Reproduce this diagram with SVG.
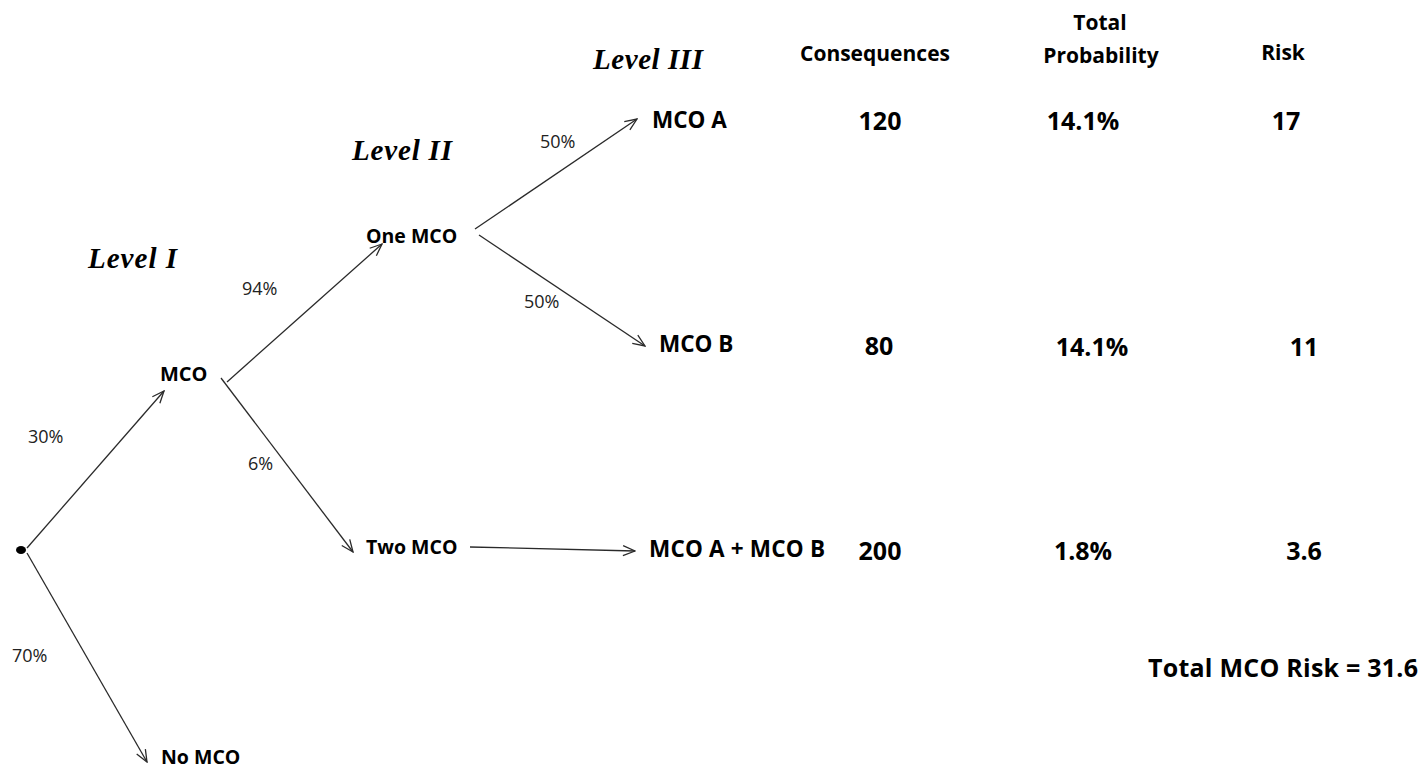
<svg xmlns="http://www.w3.org/2000/svg" width="1420" height="768" viewBox="0 0 1420 768">
<style>
.node{font-family:"Open Sans","Liberation Sans",sans-serif;font-weight:bold;fill:#000}
.pct{font-family:"Open Sans","Liberation Sans",sans-serif;font-size:18px;fill:#222}
.lvl{font-family:"Liberation Serif","Times New Roman",serif;font-weight:bold;font-style:italic;font-size:29px;fill:#000}
.hdr{font-family:"Open Sans","Liberation Sans",sans-serif;font-weight:bold;font-size:21px;fill:#000;text-anchor:middle}
.val{font-family:"Open Sans","Liberation Sans",sans-serif;font-weight:bold;font-size:25px;fill:#000;text-anchor:middle}
.edge{stroke:#2a2a2a;stroke-width:1.3;fill:none;marker-end:url(#arr)}
</style>
<defs>
<marker id="arr" viewBox="0 0 14 12" refX="13" refY="6" markerWidth="14" markerHeight="12" markerUnits="userSpaceOnUse" orient="auto">
<path d="M1,1 L13,6 L1,11" fill="none" stroke="#2a2a2a" stroke-width="1.3"/>
</marker>
</defs>
<rect width="1420" height="768" fill="#fff"/>

<g id="levels">
<text class="lvl" x="88" y="268" textLength="89">Level I</text>
<text class="lvl" x="352" y="160" textLength="100">Level II</text>
<text class="lvl" x="593" y="69" textLength="110">Level III</text>
</g>

<g id="connectors">
<line class="edge" x1="27" y1="548" x2="164" y2="391"/>
<line class="edge" x1="27" y1="553" x2="147" y2="762"/>
<line class="edge" x1="227" y1="382" x2="382" y2="244"/>
<line class="edge" x1="221" y1="378" x2="353" y2="552"/>
<line class="edge" x1="475" y1="229" x2="637" y2="119"/>
<line class="edge" x1="479" y1="235" x2="645" y2="346"/>
<line class="edge" x1="470" y1="547" x2="635" y2="551"/>
</g>

<g id="edge-labels">
<text class="pct" x="28" y="443">30%</text>
<text class="pct" x="12" y="662">70%</text>
<text class="pct" x="242" y="295">94%</text>
<text class="pct" x="248" y="470">6%</text>
<text class="pct" x="540" y="148">50%</text>
<text class="pct" x="524" y="308">50%</text>
</g>

<g id="root"><ellipse cx="21" cy="550" rx="5" ry="4" fill="#000"/></g>
<g id="mco"><text class="node" x="160" y="381" font-size="20">MCO</text></g>
<g id="no-mco"><text class="node" x="161" y="764" font-size="19.5">No MCO</text></g>
<g id="one-mco"><text class="node" x="366" y="243" font-size="19.5">One MCO</text></g>
<g id="two-mco"><text class="node" x="366" y="554" font-size="19.5">Two MCO</text></g>
<g id="mco-a"><text class="node" x="652" y="128" font-size="22.5">MCO A</text></g>
<g id="mco-b"><text class="node" x="659" y="352" font-size="22.5">MCO B</text></g>
<g id="mco-ab"><text class="node" x="649" y="557" font-size="22.5" textLength="176">MCO A + MCO B</text></g>

<g id="table">
<text class="hdr" x="875" y="61">Consequences</text>
<text class="hdr" x="1100" y="30">Total</text>
<text class="hdr" x="1101" y="63">Probability</text>
<text class="hdr" x="1283" y="60">Risk</text>
<text class="val" x="880" y="130">120</text>
<text class="val" x="1083" y="130">14.1%</text>
<text class="val" x="1286" y="130">17</text>
<text class="val" x="879" y="355">80</text>
<text class="val" x="1092" y="356">14.1%</text>
<text class="val" x="1304" y="356">11</text>
<text class="val" x="880" y="560">200</text>
<text class="val" x="1083" y="560">1.8%</text>
<text class="val" x="1304" y="560">3.6</text>
<text class="val" x="1283" y="677" textLength="270">Total  MCO Risk = 31.6</text>
</g>
</svg>
